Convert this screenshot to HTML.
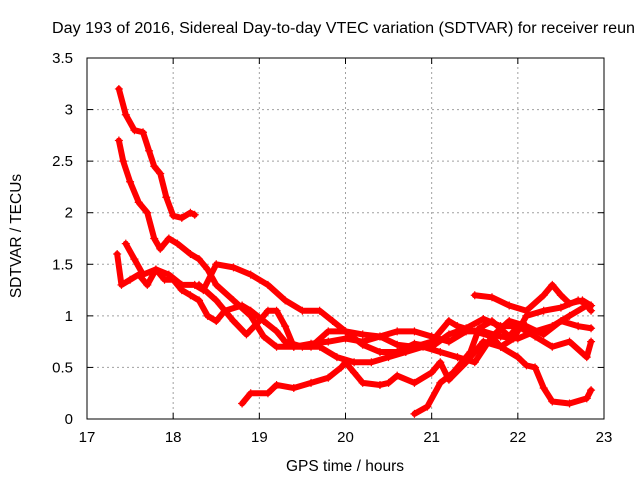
<!DOCTYPE html>
<html><head><meta charset="utf-8"><style>
body{margin:0;background:#fff}
svg{display:block;font-family:"Liberation Sans",sans-serif}
</style></head><body>
<svg id="chart" width="640" height="480" viewBox="0 0 640 480" xmlns="http://www.w3.org/2000/svg">
<rect width="640" height="480" fill="#fff"/>
<text x="52" y="33" font-size="15.5" textLength="583" lengthAdjust="spacingAndGlyphs" fill="#000">Day 193 of 2016, Sidereal Day-to-day VTEC variation (SDTVAR) for receiver reun</text>
<g id="grid"></g>
<g id="series"></g>
<g id="axes"></g>
<text x="345" y="471" font-size="15.5" text-anchor="middle">GPS time / hours</text>
<text transform="translate(21,236) rotate(-90)" font-size="15.5" text-anchor="middle">SDTVAR / TECUs</text>
</svg>
<script>
const xTicks=[17,18,19,20,21,22,23];
const yTicks=[0,0.5,1,1.5,2,2.5,3,3.5];
const yTickLabels=["0","0.5","1","1.5","2","2.5","3","3.5"];
const seriesA=[[17.37,3.2],[17.45,2.95],[17.55,2.8],[17.65,2.78],[17.72,2.6],[17.78,2.45],[17.85,2.38],[17.92,2.15],[18.0,1.97],[18.1,1.95],[18.2,2.0],[18.25,1.98]];
const seriesB=[[17.37,2.7],[17.42,2.5],[17.5,2.3],[17.6,2.1],[17.7,2.0],[17.78,1.75],[17.85,1.65],[17.95,1.75],[18.05,1.7],[18.2,1.6],[18.3,1.55],[18.4,1.45],[18.5,1.3],[18.7,1.15],[18.9,1.0],[19.05,0.8],[19.2,0.7],[19.4,0.7],[19.6,0.73],[19.8,0.75],[20.0,0.78],[20.2,0.75],[20.4,0.8],[20.6,0.85],[20.8,0.85],[21.0,0.8],[21.2,0.75],[21.4,0.85],[21.6,0.85],[21.8,0.8],[22.0,0.78],[22.2,0.85],[22.4,0.9],[22.6,1.0],[22.8,1.1],[22.85,1.05]];
const seriesC=[[17.35,1.6],[17.4,1.3],[17.5,1.35],[17.6,1.4],[17.7,1.3],[17.8,1.45],[17.9,1.35],[18.0,1.35],[18.1,1.25],[18.2,1.2],[18.3,1.15],[18.4,1.0],[18.5,0.95],[18.6,1.05],[18.8,1.1],[18.9,1.05],[19.05,0.95],[19.2,0.85],[19.3,0.75],[19.5,0.7],[19.7,0.7],[19.9,0.6],[20.1,0.55],[20.3,0.55],[20.5,0.6],[20.7,0.65],[20.9,0.7],[21.1,0.65],[21.3,0.6],[21.5,0.55],[21.7,0.8],[21.9,0.95],[22.1,0.9],[22.3,0.82],[22.5,0.95],[22.7,0.9],[22.85,0.88]];
const seriesD=[[17.45,1.7],[17.55,1.55],[17.65,1.4],[17.8,1.45],[17.95,1.4],[18.1,1.3],[18.25,1.3],[18.35,1.25],[18.5,1.5],[18.7,1.47],[18.9,1.4],[19.1,1.3],[19.3,1.15],[19.5,1.05],[19.7,1.05],[19.85,0.95],[20.0,0.85],[20.2,0.82],[20.4,0.8],[20.6,0.72],[20.8,0.7],[21.0,0.75],[21.2,0.95],[21.3,0.9],[21.5,0.85],[21.7,0.8],[21.8,0.7],[22.0,0.6],[22.1,0.52],[22.2,0.5],[22.3,0.3],[22.4,0.17],[22.6,0.15],[22.8,0.2],[22.85,0.28]];
const seriesE=[[18.3,1.3],[18.5,1.15],[18.7,0.95],[18.85,0.82],[19.0,0.95],[19.1,1.05],[19.2,1.05],[19.3,0.9],[19.4,0.7],[19.6,0.7],[19.8,0.85],[20.0,0.85],[20.2,0.72],[20.4,0.65],[20.6,0.65],[20.8,0.73],[21.0,0.7],[21.2,0.82],[21.4,0.88],[21.6,0.97],[21.8,0.9],[22.0,0.9],[22.2,0.8],[22.4,0.7],[22.6,0.75],[22.8,0.6],[22.85,0.75]];
const seriesF=[[18.8,0.15],[18.9,0.25],[19.1,0.25],[19.2,0.33],[19.4,0.3],[19.6,0.35],[19.8,0.4],[19.95,0.5],[20.0,0.55],[20.1,0.45],[20.2,0.35],[20.4,0.33],[20.5,0.35],[20.6,0.42],[20.8,0.35],[21.0,0.45],[21.1,0.55],[21.2,0.38],[21.4,0.55],[21.6,0.75],[21.8,0.7],[21.95,0.78],[22.1,1.0],[22.3,1.05],[22.5,1.08],[22.7,1.15],[22.85,1.1]];
const seriesG=[[20.8,0.05],[20.95,0.12],[21.1,0.35],[21.25,0.45],[21.35,0.55],[21.45,0.65],[21.55,0.88],[21.7,0.95],[21.9,0.8],[22.0,0.9]];
const seriesH=[[21.5,1.2],[21.7,1.18],[21.9,1.1],[22.1,1.05],[22.3,1.2],[22.4,1.3],[22.5,1.2],[22.6,1.12],[22.75,1.15],[22.85,1.1]];
const allSeries=[seriesA,seriesB,seriesC,seriesD,seriesE,seriesF,seriesG,seriesH];
const X0=87,X1=604,Y0=419,Y1=58;
const xs=t=>X0+(t-17)/6*(X1-X0);
const ys=v=>Y0-v/3.5*(Y0-Y1);
const NS="http://www.w3.org/2000/svg";
function mk(tag,attrs,parent){const e=document.createElementNS(NS,tag);for(const k in attrs)e.setAttribute(k,attrs[k]);parent.appendChild(e);return e;}
const grid=document.getElementById('grid'),axes=document.getElementById('axes'),ser=document.getElementById('series');
xTicks.forEach((t,i)=>{
  const x=xs(t);
  if(i>0&&i<xTicks.length-1){const g=mk('line',{x1:x,x2:x,y1:Y0,y2:Y1,stroke:'#a0a0a0','stroke-dasharray':'2,3'},grid);
  
  }
  mk('line',{x1:x,x2:x,y1:Y0,y2:Y0-6,stroke:'#000'},axes);
  mk('line',{x1:x,x2:x,y1:Y1,y2:Y1+6,stroke:'#000'},axes);
  const l=mk('text',{x:x,y:Y0+23,'font-size':15,'text-anchor':'middle'},axes);l.textContent=t;
  
  
});
yTicks.forEach((v,i)=>{
  const y=ys(v);
  if(i>0&&i<yTicks.length-1){const g=mk('line',{x1:X0,x2:X1,y1:y,y2:y,stroke:'#a0a0a0','stroke-dasharray':'2,3'},grid);
  
  }
  mk('line',{x1:X0,x2:X0+6,y1:y,y2:y,stroke:'#000'},axes);
  mk('line',{x1:X1,x2:X1-6,y1:y,y2:y,stroke:'#000'},axes);
  const l=mk('text',{x:X0-14,y:y+5,'font-size':15,'text-anchor':'end'},axes);l.textContent=yTickLabels[i];
  
  
});
const fr=mk('rect',{x:X0,y:Y1,width:X1-X0,height:Y0-Y1,fill:'none',stroke:'#000'},axes);


allSeries.forEach((s,si)=>{
  const g=mk('g',{},ser);
  
  
  mk('polyline',{points:s.map(p=>xs(p[0])+','+ys(p[1])).join(' '),fill:'none',stroke:'#f00','stroke-width':6,'stroke-linejoin':'round','stroke-linecap':'round'},g);
  s.forEach(p=>{
    const x=xs(p[0]),y=ys(p[1]);
    const m=mk('path',{d:`M${x-4},${y}H${x+4}M${x},${y-4}V${y+4}`,stroke:'#f00','stroke-width':1.2},g);
    
    
  });
});
</script>
</body></html>
